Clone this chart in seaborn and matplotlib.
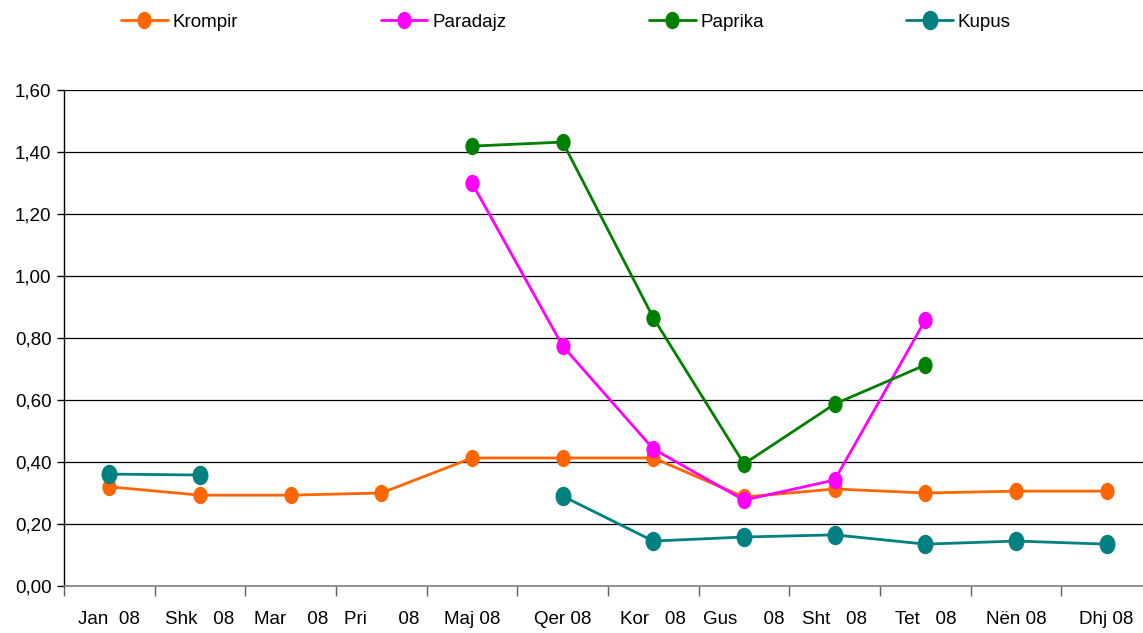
import numpy as np
import pandas as pd
import matplotlib
matplotlib.use('Agg')
import matplotlib.pyplot as plt
from matplotlib.path import Path
from matplotlib.lines import Line2D
import seaborn as sns

# ── Données ───────────────────────────────────────────────────────────────────
mois = ['Jan  08', 'Shk   08', 'Mar    08', 'Pri      08', 'Maj 08', 'Qer 08',
        'Kor   08', 'Gus     08', 'Sht   08', 'Tet   08', 'Nën 08', 'Dhj 08']

krompir  = [0.32, 0.293, 0.293, 0.30, 0.413, 0.413, 0.413, 0.287, 0.313, 0.30, 0.306, 0.306]
paradajz = [np.nan, np.nan, np.nan, np.nan, 1.30, 0.774, 0.442, 0.277, 0.342, 0.858, np.nan, np.nan]
paprika  = [np.nan, np.nan, np.nan, np.nan, 1.419, 1.432, 0.865, 0.394, 0.587, 0.713, np.nan, np.nan]
kupus    = [0.361, 0.358, np.nan, np.nan, np.nan, 0.29, 0.145, 0.158, 0.165, 0.135, 0.145, 0.135]

series = {'Krompir': krompir, 'Paradajz': paradajz, 'Paprika': paprika, 'Kupus': kupus}
couleurs = {'Krompir': '#FF6600', 'Paradajz': '#FF00FF', 'Paprika': '#008000', 'Kupus': '#008080'}
taille = {'Krompir': 12.5, 'Paradajz': 12.5, 'Paprika': 12.5, 'Kupus': 14}

# ── Tableau long avec segments (les trous coupent la ligne) ───────────────────
rows = []
for nom, vals in series.items():
    seg = 0
    prev_nan = True
    for i, v in enumerate(vals):
        if np.isnan(v):
            prev_nan = True
            continue
        if prev_nan:
            seg += 1
        prev_nan = False
        rows.append({'mois': i, 'valeur': v, 'serie': nom, 'seg': f'{nom}_{seg}'})
df = pd.DataFrame(rows)

# ── Style ─────────────────────────────────────────────────────────────────────
sns.set_style('white')
plt.rcParams['font.family'] = ['Liberation Sans', 'DejaVu Sans']
plt.rcParams['text.color'] = 'black'
plt.rcParams['xtick.color'] = 'black'
plt.rcParams['ytick.color'] = 'black'

# marqueur elliptique (comme Excel)
cercle = Path.unit_circle()
ellipse = Path(cercle.vertices * np.array([0.82, 1.0]), cercle.codes)

fig = plt.figure(figsize=(11.43, 6.33), dpi=100)
# la zone de tracé déborde un peu à droite, comme dans l'original
ax = fig.add_axes([64 / 1143, 1 - 586 / 633, (1152 - 64) / 1143, (586 - 90) / 633])

for nom in series:
    sub = df[df['serie'] == nom]
    sns.lineplot(data=sub, x='mois', y='valeur', units='seg', estimator=None,
                 color=couleurs[nom], linewidth=2.0, marker=ellipse,
                 markersize=taille[nom], markeredgewidth=0, ax=ax, legend=False,
                 zorder=3)

# ── Axes ──────────────────────────────────────────────────────────────────────
ax.set_xlim(-0.5, 11.5)
ax.set_ylim(0, 1.6)
ax.set_xlabel('')
ax.set_ylabel('')

yt = np.arange(0, 1.61, 0.2)
ax.set_yticks(yt)
ax.set_yticklabels([f'{v:.2f}'.replace('.', ',') for v in yt], fontsize=13.5)
ax.yaxis.grid(True, color='black', linewidth=0.9)
ax.set_axisbelow(True)

ax.set_xticks(np.arange(-0.5, 12, 1))
ax.set_xticklabels([])
ax.set_xticks(np.arange(12), minor=True)
ax.set_xticklabels(mois, minor=True, fontsize=13.5)
ax.tick_params(axis='x', which='major', direction='out', length=7, width=1,
               color='#606060', bottom=True)
ax.tick_params(axis='x', which='minor', length=0, pad=18)
ax.tick_params(axis='y', direction='out', length=5, width=1, color='black',
               left=True, pad=4)

for s in ['top', 'right']:
    ax.spines[s].set_visible(False)
ax.spines['left'].set_color('black')
ax.spines['left'].set_linewidth(1)
ax.spines['bottom'].set_color('#808080')
ax.spines['bottom'].set_linewidth(1.2)

# ── Légende en haut ───────────────────────────────────────────────────────────
handles = [Line2D([], [], color=couleurs[n], linewidth=2.0, marker=ellipse,
                  markersize=taille[n], markeredgewidth=0) for n in series]
fig.legend(handles, list(series.keys()), loc='center left',
           bbox_to_anchor=(121 / 1143, 1 - 22 / 633), ncol=4, frameon=False,
           fontsize=13.5, handlelength=2.5, handletextpad=0.25, columnspacing=7.6,
           borderpad=0, borderaxespad=0)

fig.savefig('out.png', dpi=100)
